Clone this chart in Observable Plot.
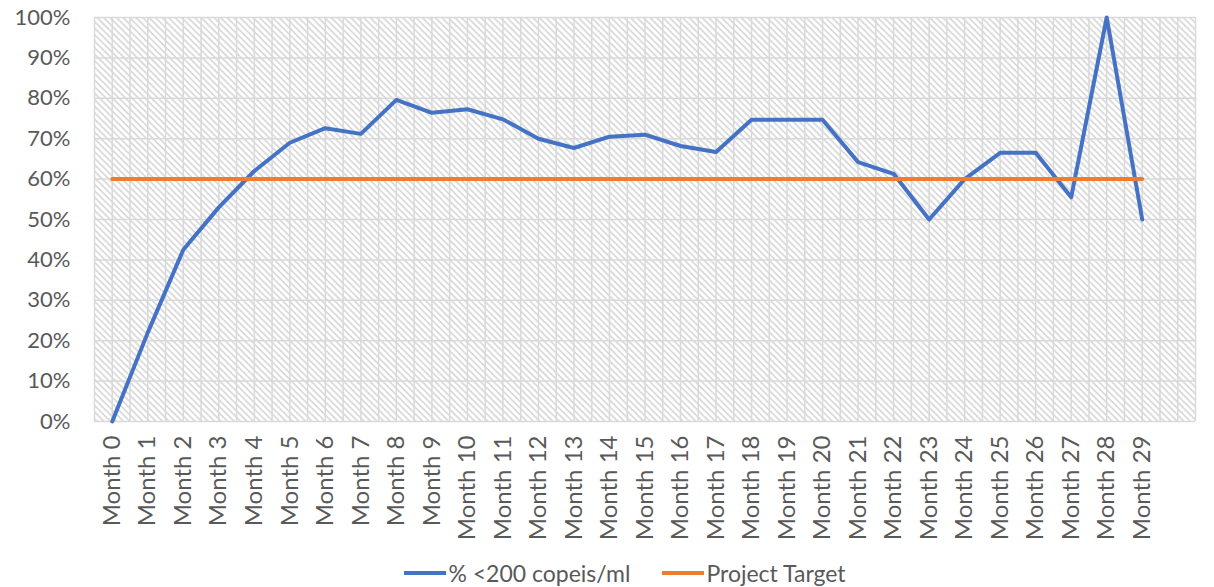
<!DOCTYPE html>
<html>
<head>
<meta charset="utf-8">
<script src="https://cdn.jsdelivr.net/npm/d3@7"></script>
<script src="https://cdn.jsdelivr.net/npm/@observablehq/plot@0.6"></script>
<style>
  body { margin: 0; background: #fff; font-family: Lato, "Open Sans", sans-serif; }
  #legend { display: flex; justify-content: center; align-items: center; gap: 32px; margin-top: 14px;
            font-size: 23px; color: #595959; padding-left: 36px; }
  .item { display: flex; align-items: center; }
  .sw { display: inline-block; width: 42px; height: 4px; margin-right: 2px; }
</style>
</head>
<body>
<div id="chart"></div>
<div id="legend"></div>
<script>
const months = ["Month 0","Month 1","Month 2","Month 3","Month 4","Month 5","Month 6","Month 7","Month 8","Month 9",
  "Month 10","Month 11","Month 12","Month 13","Month 14","Month 15","Month 16","Month 17","Month 18","Month 19",
  "Month 20","Month 21","Month 22","Month 23","Month 24","Month 25","Month 26","Month 27","Month 28","Month 29"];
const pct = [0.00, 0.22, 0.425, 0.53, 0.62, 0.69, 0.726, 0.712, 0.796, 0.764,
  0.773, 0.748, 0.70, 0.677, 0.705, 0.71, 0.682, 0.667, 0.747, 0.747,
  0.747, 0.642, 0.613, 0.50, 0.60, 0.665, 0.665, 0.555, 1.00, 0.50];
const target = [0.6,0.6,0.6,0.6,0.6,0.6,0.6,0.6,0.6,0.6,
  0.6,0.6,0.6,0.6,0.6,0.6,0.6,0.6,0.6,0.6,
  0.6,0.6,0.6,0.6,0.6,0.6,0.6,0.6,0.6,0.6];
const yTicks = [0, 0.1, 0.2, 0.3, 0.4, 0.5, 0.6, 0.7, 0.8, 0.9, 1.0];
const seriesNames = ["% <200 copeis/ml", "Project Target"];
const seriesColors = ["#4472C4", "#ED7D31"];

const data = months.map((m, i) => ({i, m, pct: pct[i], target: target[i]}));
const idx = months.map((m, i) => i);
// one extra empty category slot after the last month, as in the reference
const nSlots = months.length + 1;
const gridX = d3.range(-0.5, nSlots, 0.5);

const plot = Plot.plot({
  width: 1214,
  height: 545,
  marginLeft: 94,
  marginRight: 19,
  marginTop: 17,
  marginBottom: 124,
  style: {fontFamily: "Lato, 'Open Sans', sans-serif", fontSize: "22px", color: "#595959", background: "#fff"},
  x: {type: "linear", domain: [-0.5, nSlots - 0.5]},
  y: {domain: [0, 1]},
  marks: [
    Plot.frame({fill: "url(#hatch)", stroke: null}),
    Plot.ruleX(gridX, {stroke: "#d9d9d9", strokeWidth: 1.5}),
    Plot.ruleY(yTicks, {stroke: "#d9d9d9", strokeWidth: 1.5}),
    Plot.axisY({ticks: yTicks, tickFormat: d3.format(".0%"), tickSize: 0, tickPadding: 24, label: null}),
    Plot.axisX({ticks: idx, tickFormat: i => months[i], tickRotate: -90, tickSize: 0, tickPadding: 14, label: null, fontSize: 24}),
    Plot.line(data, {x: "i", y: "pct", stroke: seriesColors[0], strokeWidth: 4, strokeLinejoin: "round"}),
    Plot.line(data, {x: "i", y: "target", stroke: seriesColors[1], strokeWidth: 4})
  ]
});

const ns = "http://www.w3.org/2000/svg";
const defs = document.createElementNS(ns, "defs");
defs.innerHTML = '<pattern id="hatch" width="4.6" height="4.6" patternUnits="userSpaceOnUse" patternTransform="rotate(-45)">' +
  '<rect width="4.6" height="4.6" fill="#ffffff"/>' +
  '<line x1="1" y1="0" x2="1" y2="4.6" stroke="#d6d6d6" stroke-width="1.6"/></pattern>';
plot.insertBefore(defs, plot.firstChild);
document.getElementById("chart").appendChild(plot);

const legend = document.getElementById("legend");
seriesNames.forEach((name, k) => {
  const item = document.createElement("span");
  item.className = "item";
  const sw = document.createElement("span");
  sw.className = "sw";
  sw.style.background = seriesColors[k];
  const t = document.createElement("span");
  t.textContent = name;
  item.appendChild(sw);
  item.appendChild(t);
  legend.appendChild(item);
});
</script>
</body>
</html>
